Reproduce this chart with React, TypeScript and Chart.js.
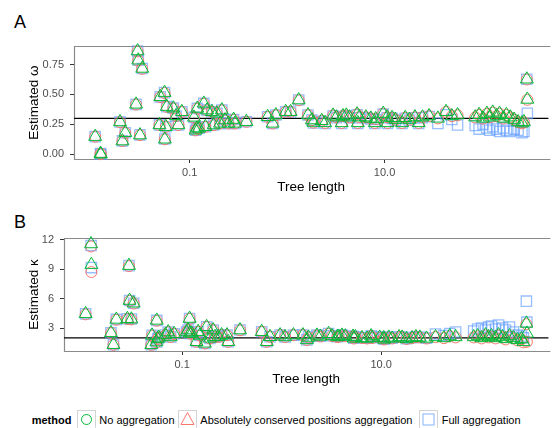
import React, { useEffect, useRef } from "react";
import { Chart, registerables } from "chart.js";
Chart.register(...registerables);

// ---- data -------------------------------------------------------------
const treeLength = [
  0.01072, 0.01216, 0.01225, 0.01928, 0.02042, 0.02183, 0.02818, 0.02924, 0.02965, 0.0309,
  0.03258, 0.04898, 0.04989, 0.05521, 0.05559, 0.05689, 0.05821, 0.06792, 0.07244, 0.07674,
  0.08318, 0.1107, 0.1148, 0.1189, 0.1197, 0.1245, 0.1396, 0.1449, 0.1507, 0.1694,
  0.1762, 0.1901, 0.2051, 0.2138, 0.2307, 0.2495, 0.2825, 0.2911, 0.3819, 0.631,
  0.7096, 0.7656, 0.9661, 1.084, 1.315, 1.637, 1.795, 1.862, 2.265, 2.455,
  2.965, 3.206, 3.631, 3.741, 4.046, 4.365, 5.224, 5.309, 5.508, 6.427,
  7.228, 7.943, 8.11, 9.683, 10.62, 10.72, 11.94, 12.91, 15.14, 16.29,
  17.99, 20.51, 22.39, 24.49, 28.64, 35.24, 42.76, 48.98, 56.1, 85.11,
  93.33, 102.3, 112.2, 120.2, 128.8, 141.3, 151.4, 166.0, 177.8, 195.0,
  213.8, 234.4, 257.0, 269.2, 288.4, 291.7,
];

const omegaNoAgg = [
  0.147, 0.005, 0.0, 0.27, 0.11, 0.18, 0.417, 0.863, 0.786, 0.16,
  0.717, 0.245, 0.48, 0.515, 0.125, 0.23, 0.398, 0.385, 0.32, 0.245,
  0.355, 0.308, 0.2, 0.217, 0.383, 0.217, 0.425, 0.23, 0.369, 0.355,
  0.244, 0.342, 0.258, 0.369, 0.286, 0.258, 0.29, 0.258, 0.272, 0.313,
  0.258, 0.328, 0.355, 0.355, 0.453, 0.328, 0.286, 0.265, 0.28, 0.262,
  0.325, 0.31, 0.262, 0.32, 0.325, 0.31, 0.335, 0.262, 0.31, 0.31,
  0.3, 0.262, 0.295, 0.34, 0.31, 0.262, 0.305, 0.29, 0.262, 0.305,
  0.29, 0.31, 0.262, 0.31, 0.32, 0.3, 0.355, 0.32, 0.328, 0.31,
  0.33, 0.3, 0.34, 0.31, 0.35, 0.32, 0.34, 0.3, 0.33, 0.31,
  0.29, 0.27, 0.26, 0.27, 0.627, 0.458,
];
const omegaAbsAgg = [
  0.147, 0.005, 0.0, 0.268, 0.11, 0.178, 0.415, 0.86, 0.783, 0.16,
  0.714, 0.244, 0.478, 0.512, 0.125, 0.229, 0.396, 0.383, 0.319, 0.244,
  0.354, 0.307, 0.199, 0.216, 0.381, 0.216, 0.423, 0.229, 0.367, 0.354,
  0.243, 0.341, 0.257, 0.367, 0.285, 0.257, 0.289, 0.257, 0.271, 0.312,
  0.257, 0.327, 0.354, 0.354, 0.451, 0.327, 0.285, 0.264, 0.279, 0.261,
  0.324, 0.309, 0.261, 0.319, 0.324, 0.309, 0.334, 0.261, 0.309, 0.309,
  0.299, 0.261, 0.294, 0.339, 0.309, 0.261, 0.304, 0.289, 0.261, 0.304,
  0.289, 0.309, 0.261, 0.309, 0.319, 0.299, 0.353, 0.318, 0.326, 0.308,
  0.328, 0.298, 0.338, 0.308, 0.348, 0.318, 0.338, 0.298, 0.328, 0.308,
  0.288, 0.268, 0.258, 0.268, 0.625, 0.455,
];
const omegaFullAgg = [
  0.147, 0.005, 0.0, 0.27, 0.112, 0.18, 0.417, 0.863, 0.786, 0.162,
  0.717, 0.245, 0.48, 0.515, 0.127, 0.23, 0.398, 0.385, 0.32, 0.245,
  0.355, 0.308, 0.2, 0.217, 0.383, 0.218, 0.425, 0.23, 0.369, 0.355,
  0.244, 0.342, 0.258, 0.369, 0.286, 0.258, 0.29, 0.258, 0.272, 0.313,
  0.258, 0.328, 0.355, 0.352, 0.453, 0.328, 0.286, 0.262, 0.276, 0.258,
  0.32, 0.305, 0.258, 0.315, 0.32, 0.305, 0.33, 0.258, 0.305, 0.305,
  0.295, 0.258, 0.29, 0.335, 0.305, 0.258, 0.3, 0.285, 0.258, 0.3,
  0.285, 0.305, 0.258, 0.305, 0.315, 0.258, 0.33, 0.29, 0.244, 0.24,
  0.21, 0.25, 0.22, 0.2, 0.23, 0.21, 0.19, 0.22, 0.2, 0.19,
  0.21, 0.2, 0.18, 0.19, 0.627, 0.342,
];

const kappaNoAgg = [
  4.45, 11.55, 9.45, 2.52, 1.31, 3.88, 3.95, 9.35, 5.8, 3.9,
  5.53, 1.3, 2.26, 1.58, 3.78, 1.9, 2.05, 2.3, 2.6, 2.1,
  2.42, 2.6, 2.8, 3.97, 2.46, 2.46, 1.61, 2.63, 2.25, 1.45,
  3.13, 1.96, 2.8, 2.12, 2.12, 2.29, 2.29, 1.61, 2.8, 2.63,
  1.61, 2.12, 2.29, 2.1, 2.29, 2.29, 1.8, 2.05, 2.26, 2.15,
  2.42, 2.2, 2.1, 2.15, 2.26, 2.18, 2.15, 1.95, 2.1, 2.0,
  1.95, 2.2, 2.0, 2.05, 2.0, 1.85, 2.05, 1.95, 2.1, 2.05,
  1.9, 2.0, 2.1, 2.05, 1.95, 2.1, 2.0, 2.2, 2.1, 2.1,
  2.2, 2.0, 2.3, 2.1, 2.2, 2.0, 2.3, 2.1, 1.9, 2.2,
  2.0, 1.8, 1.9, 1.6, 3.48, 2.46,
];
const kappaAbsAgg = [
  4.4, 11.3, 8.7, 2.5, 1.3, 3.85, 3.92, 9.3, 5.76, 3.88,
  5.5, 1.3, 2.24, 1.57, 3.75, 1.89, 2.04, 2.28, 2.58, 2.09,
  2.4, 2.58, 2.78, 3.95, 2.45, 2.44, 1.6, 2.61, 2.24, 1.44,
  3.11, 1.95, 2.78, 2.11, 2.1, 2.28, 2.27, 1.6, 2.78, 2.62,
  1.6, 2.11, 2.28, 2.09, 2.28, 2.28, 1.79, 2.04, 2.25, 2.14,
  2.41, 2.19, 2.09, 2.14, 2.25, 2.17, 2.14, 1.94, 2.09, 1.99,
  1.94, 2.19, 1.99, 2.04, 1.99, 1.84, 2.04, 1.94, 2.09, 2.04,
  1.89, 1.99, 2.09, 2.04, 1.94, 2.08, 1.98, 2.15, 2.05, 2.05,
  2.15, 1.95, 2.25, 2.05, 2.15, 1.95, 2.25, 2.05, 1.85, 2.15,
  1.95, 1.75, 1.85, 1.55, 3.4, 1.6,
];
const kappaFullAgg = [
  4.45, 11.4, 9.15, 2.52, 1.31, 3.88, 3.95, 9.35, 5.8, 3.92,
  5.53, 1.32, 2.26, 1.58, 3.78, 1.9, 2.05, 2.3, 2.6, 2.1,
  2.42, 2.6, 2.8, 3.97, 2.46, 2.46, 1.61, 2.63, 2.25, 1.45,
  3.13, 1.96, 2.8, 2.12, 2.12, 2.29, 2.29, 1.61, 2.8, 2.63,
  1.61, 2.12, 2.29, 2.1, 2.29, 2.29, 1.8, 2.08, 2.28, 2.18,
  2.44, 2.22, 2.12, 2.17, 2.28, 2.2, 2.17, 1.98, 2.12, 2.03,
  1.98, 2.22, 2.03, 2.08, 2.03, 1.88, 2.08, 1.98, 2.12, 2.08,
  1.93, 2.03, 2.12, 2.08, 1.98, 2.4, 2.25, 2.45, 2.6, 2.7,
  2.9, 3.0, 2.8, 3.1, 3.2, 2.9, 3.3, 3.0, 2.8, 3.1,
  2.6, 2.3, 2.2, 2.0, 5.74, 3.6,
];

const TRUE_OMEGA = 0.3;
const TRUE_KAPPA = 2;
const xTickValues = [0.1, 10];
const omegaTickValues = [0, 0.25, 0.5, 0.75];
const kappaTickValues = [3, 6, 9, 12];
const methodLabels = [
  "No aggregation",
  "Absolutely conserved positions aggregation",
  "Full aggregation",
];

// ---- styling -----------------------------------------------------------
const FONT = "'Liberation Sans', Arial, Helvetica, sans-serif";
const GREEN = "#00BA38";
const RED = "#F8766D";
const BLUE = "rgba(97,156,255,0.65)";
const W = 557;

Chart.defaults.font.family = FONT;

type PanelProps = {
  top: number;
  height: number;
  chartTop: number;
  chartBottom: number;
  chartLeft: number;
  no: number[];
  abs: number[];
  full: number[];
  yMin: number;
  yMax: number;
  yTicks: number[];
  yDigits: number;
  yTitle: string;
  refValue: number;
  letter: string;
};

function Panel(p: PanelProps) {
  const ref = useRef<HTMLCanvasElement>(null);
  useEffect(() => {
    const canvas = ref.current!;
    const mk = (ys: number[], label: string, color: string, style: any, radius: number, order: number, bw: number) => ({
      label,
      data: treeLength.map((x, i) => ({ x, y: ys[i] })),
      pointStyle: style,
      pointRadius: radius,
      pointHoverRadius: radius,
      pointBorderColor: color,
      pointBackgroundColor: "rgba(0,0,0,0)",
      pointBorderWidth: bw,
      borderColor: color,
      backgroundColor: "rgba(0,0,0,0)",
      order,
      clip: 6,
    });
    const refPlugin = {
      id: "frameAndRef",
      beforeDatasetsDraw(chart: any) {
        const { ctx, chartArea } = chart;
        const { left, right, top, bottom } = chartArea;
        ctx.save();
        ctx.strokeStyle = "#8a8a8a";
        ctx.lineWidth = 1.2;
        ctx.beginPath();
        ctx.moveTo(right + 2, top + 0.5);
        ctx.lineTo(left + 0.5, top + 0.5);
        ctx.lineTo(left + 0.5, bottom + 0.5);
        ctx.lineTo(right + 2, bottom + 0.5);
        ctx.stroke();
        const y = chart.scales.y.getPixelForValue(p.refValue);
        ctx.strokeStyle = "#000";
        ctx.lineWidth = 1.3;
        ctx.beginPath();
        ctx.moveTo(left, y);
        ctx.lineTo(right, y);
        ctx.stroke();
        ctx.restore();
      },
    };
    const chart = new Chart(canvas, {
      type: "scatter",
      data: {
        datasets: [
          mk(p.no, methodLabels[0], GREEN, "triangle", 7.5, 0, 1),
          mk(p.abs, methodLabels[1], RED, "circle", 5.5, 1, 1),
          mk(p.full, methodLabels[2], BLUE, "rect", 7.3, 2, 1.3),
        ] as any,
      },
      options: {
        animation: false,
        responsive: false,
        events: [],
        layout: { padding: { top: p.chartTop, left: 0, right: 0, bottom: 0 } },
        plugins: { legend: { display: false }, tooltip: { enabled: false } },
        scales: {
          x: {
            type: "logarithmic",
            min: 0.0065,
            max: 480,
            border: { display: false },
            grid: { display: true, drawOnChartArea: false, drawTicks: true, tickLength: 4, color: "#333", lineWidth: 1 },
            afterBuildTicks: (s: any) => {
              s.ticks = xTickValues.map((v) => ({ value: v }));
            },
            afterFit: (s: any) => {
              s.height = p.height - p.chartBottom;
            },
            ticks: {
              autoSkip: false,
              maxRotation: 0,
              padding: 3,
              color: "#4d4d4d",
              font: { size: 11 },
              callback: (v: any) => Number(v).toFixed(1),
            },
            title: {
              display: true,
              text: "Tree length",
              color: "#000",
              font: { size: 13.5 },
              padding: { top: 0, bottom: 5 },
            },
          },
          y: {
            type: "linear",
            min: p.yMin,
            max: p.yMax,
            border: { display: false },
            grid: { display: true, drawOnChartArea: false, drawTicks: true, tickLength: 4, color: "#333", lineWidth: 1 },
            afterBuildTicks: (s: any) => {
              s.ticks = p.yTicks.map((v) => ({ value: v }));
            },
            afterFit: (s: any) => {
              s.width = p.chartLeft;
            },
            ticks: {
              autoSkip: false,
              padding: 6,
              color: "#4d4d4d",
              font: { size: 11 },
              callback: (v: any) => Number(v).toFixed(p.yDigits),
            },
            title: {
              display: true,
              text: p.yTitle,
              color: "#000",
              font: { size: 13.5 },
              padding: { top: 26, bottom: 0 },
            },
          },
        },
      } as any,
      plugins: [refPlugin],
    });
    return () => chart.destroy();
  }, []);
  return (
    <>
      <div
        style={{
          position: "absolute",
          left: 14,
          top: p.top + 12.7,
          fontFamily: FONT,
          fontSize: 18,
          lineHeight: "18px",
          color: "#000",
        }}
      >
        {p.letter}
      </div>
      <canvas
        ref={ref}
        width={W}
        height={p.height}
        style={{ position: "absolute", left: 0, top: p.top, width: W, height: p.height }}
      />
    </>
  );
}

function KeyBox({ kind }: { kind: "circle" | "triangle" | "square" }) {
  return (
    <svg width={19} height={19} style={{ display: "block" }}>
      <rect x={0.5} y={0.5} width={18} height={18} fill="#fff" stroke="#d4d4d4" strokeWidth={1} />
      {kind === "circle" && <circle cx={9.5} cy={9.5} r={5} fill="none" stroke={GREEN} strokeWidth={1} />}
      {kind === "triangle" && (
        <polygon points="9.5,2.5 16,14.5 3,14.5" fill="none" stroke={RED} strokeWidth={1} />
      )}
      {kind === "square" && <rect x={4} y={4} width={11} height={11} fill="none" stroke={BLUE} strokeWidth={1.2} />}
    </svg>
  );
}

function Legend() {
  const textStyle: React.CSSProperties = {
    position: "absolute",
    top: 410,
    fontFamily: FONT,
    fontSize: 11,
    lineHeight: "20px",
    color: "#000",
    whiteSpace: "nowrap",
  };
  const items: { kind: "circle" | "triangle" | "square"; box: number; text: number; label: string }[] = [
    { kind: "circle", box: 77.3, text: 99.3, label: methodLabels[0] },
    { kind: "triangle", box: 178.3, text: 200.3, label: methodLabels[1] },
    { kind: "square", box: 419.3, text: 441.7, label: methodLabels[2] },
  ];
  return (
    <>
      <div style={{ ...textStyle, left: 31.7, fontWeight: "bold" }}>method</div>
      {items.map((it) => (
        <React.Fragment key={it.label}>
          <div style={{ position: "absolute", left: it.box, top: 410 }}>
            <KeyBox kind={it.kind} />
          </div>
          <div style={{ ...textStyle, left: it.text }}>{it.label}</div>
        </React.Fragment>
      ))}
    </>
  );
}

export default function App() {
  return (
    <div
      style={{
        position: "fixed",
        left: 0,
        top: 0,
        width: W,
        height: 428,
        background: "#fff",
        overflow: "hidden",
      }}
    >
      <Panel
        top={0}
        height={200}
        chartTop={46}
        chartBottom={159}
        chartLeft={74}
        no={omegaNoAgg}
        abs={omegaAbsAgg}
        full={omegaFullAgg}
        yMin={-0.04}
        yMax={0.905}
        yTicks={omegaTickValues}
        yDigits={2}
        yTitle="Estimated ω"
        refValue={TRUE_OMEGA}
        letter="A"
      />
      <Panel
        top={200}
        height={192}
        chartTop={38}
        chartBottom={151}
        chartLeft={64}
        no={kappaNoAgg}
        abs={kappaAbsAgg}
        full={kappaFullAgg}
        yMin={0.67}
        yMax={12.16}
        yTicks={kappaTickValues}
        yDigits={0}
        yTitle="Estimated κ"
        refValue={TRUE_KAPPA}
        letter="B"
      />
      <Legend />
    </div>
  );
}
